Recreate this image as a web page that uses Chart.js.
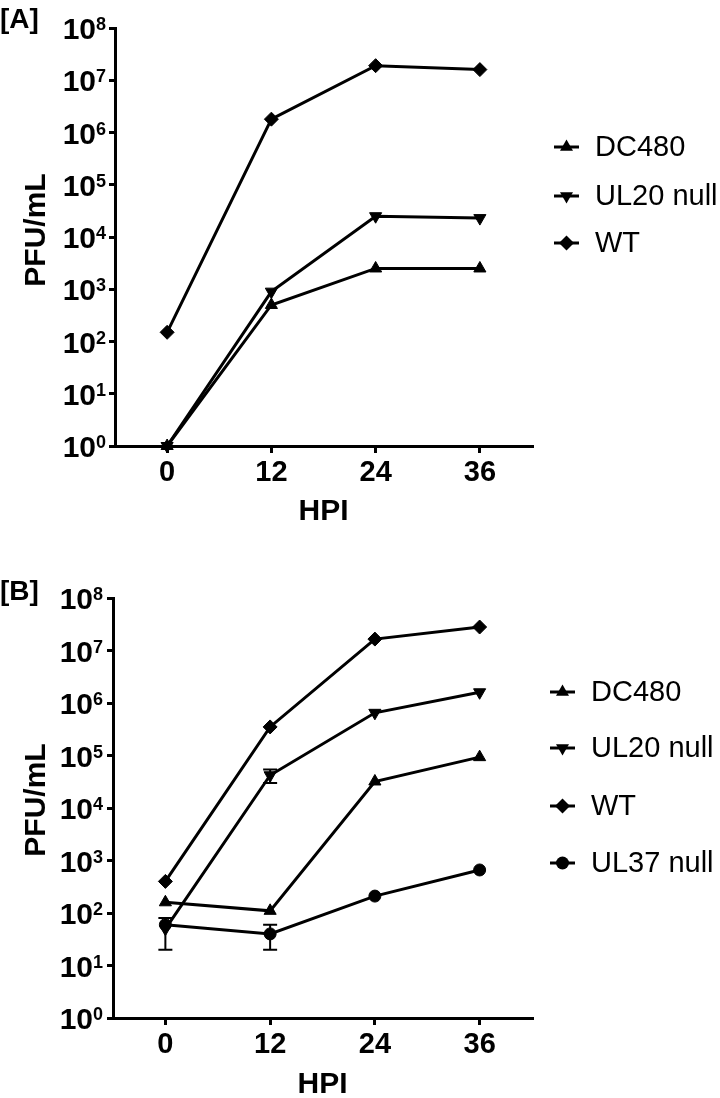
<!DOCTYPE html>
<html>
<head>
<meta charset="utf-8">
<script src="https://cdn.jsdelivr.net/npm/chart.js@4.4.0/dist/chart.umd.min.js"></script>
<style>
  body { margin: 0; background: #fff; width: 720px; height: 1098px; position: relative; overflow: hidden; }
  .panel { position: absolute; left: 0; width: 720px; height: 549px; }
</style>
</head>
<body>
<div class="panel" style="top:0"><canvas id="chartA" width="720" height="549"></canvas></div>
<div class="panel" style="top:549px"><canvas id="chartB" width="720" height="549"></canvas></div>
<script>
// ===== Data =====
const hours = [0, 12, 24, 36];
const hourTicks = [0, 12, 24, 36];
const powerTicks = [0, 1, 2, 3, 4, 5, 6, 7, 8];

// Panel A
const aDC480 = [1, 500, 2500, 2500];
const aUL20 = [1, 900, 25000, 23000];
const aWT = [150, 1.8e6, 1.9e7, 1.6e7];

// Panel B
const bDC480 = [160, 110, 32000, 93000];
const bUL20 = [50, 42000, 650000, 1.6e6];
const bWT = [400, 3.5e5, 1.65e7, 2.8e7];
const bUL37 = [60, 40, 210, 660];
const bUL20Err = [[20, 80], [30000, 54000], null, null];
const bUL37Err = [null, [20, 60], null, null];

const FONT = "'Liberation Sans', Arial, sans-serif";

const styles = {
  "DC480": { pointStyle: "triangle", rotation: 0, radius: 7 },
  "UL20 null": { pointStyle: "triangle", rotation: 180, radius: 7 },
  "WT": { pointStyle: "rectRot", rotation: 0, radius: 7 },
  "UL37 null": { pointStyle: "circle", rotation: 0, radius: 6 }
};

function series(label, values, errors) {
  const s = styles[label];
  return {
    label,
    data: hours.map((h, i) => ({ x: h, y: values[i] })),
    errors: errors || null,
    borderColor: "#000",
    backgroundColor: "#000",
    borderWidth: 3,
    pointStyle: s.pointStyle,
    rotation: s.rotation,
    pointRadius: s.radius,
    pointHoverRadius: s.radius,
    pointBorderWidth: 1,
    tension: 0,
    clip: false
  };
}

// small marker drawer for the legend
function marker(ctx, style, x, y) {
  const r = style.radius + 0.5;
  ctx.beginPath();
  if (style.pointStyle === "circle") {
    ctx.arc(x, y, r, 0, Math.PI * 2);
  } else if (style.pointStyle === "rectRot") {
    ctx.moveTo(x, y - r); ctx.lineTo(x + r, y); ctx.lineTo(x, y + r); ctx.lineTo(x - r, y);
  } else {
    const d = style.rotation ? -1 : 1;
    const h = r * 0.5;
    ctx.moveTo(x, y - d * r);
    ctx.lineTo(x + r * 0.866, y + d * h);
    ctx.lineTo(x - r * 0.866, y + d * h);
  }
  ctx.closePath();
  ctx.fill();
}

function makePanel(canvasId, tag, datasets, layout) {
  const extras = {
    id: "extras" + tag,
    beforeDatasetsDraw(chart) {
      const ctx = chart.ctx;
      const xs = chart.scales.x, ys = chart.scales.y;
      ctx.save();
      ctx.strokeStyle = "#000";
      ctx.lineWidth = 2;
      chart.data.datasets.forEach(ds => {
        if (!ds.errors) return;
        ds.errors.forEach((e, i) => {
          if (!e) return;
          const px = xs.getPixelForValue(hours[i]);
          const lo = ys.getPixelForValue(e[0]);
          const hi = ys.getPixelForValue(e[1]);
          ctx.beginPath();
          ctx.moveTo(px, lo); ctx.lineTo(px, hi);
          ctx.moveTo(px - 7, lo); ctx.lineTo(px + 7, lo);
          ctx.moveTo(px - 7, hi); ctx.lineTo(px + 7, hi);
          ctx.stroke();
        });
      });
      ctx.restore();
    },
    afterDraw(chart) {
      const ctx = chart.ctx;
      const ys = chart.scales.y;
      const area = chart.chartArea;
      ctx.save();
      ctx.fillStyle = "#000";

      // y tick labels as 10 with a superscript power
      powerTicks.forEach(p => {
        const py = ys.getPixelForValue(Math.pow(10, p));
        ctx.font = "bold 30px " + FONT;
        ctx.textAlign = "right";
        ctx.textBaseline = "alphabetic";
        ctx.fillText("10", layout.labelRight, py + 11);
        ctx.font = "bold 18px " + FONT;
        ctx.textAlign = "left";
        ctx.fillText(String(p), layout.labelRight, py + 2);
      });

      // axis titles
      ctx.font = "bold 30px " + FONT;
      ctx.textAlign = "center";
      ctx.textBaseline = "middle";
      ctx.fillText("HPI", (area.left + area.right) / 2, layout.xTitleY);
      ctx.save();
      ctx.translate(37, layout.yTitleY);
      ctx.rotate(-Math.PI / 2);
      ctx.fillText("PFU/mL", 0, 0);
      ctx.restore();

      // panel tag
      ctx.font = "bold 28px " + FONT;
      ctx.textAlign = "left";
      ctx.textBaseline = "alphabetic";
      ctx.fillText("[" + tag + "]", 0, layout.tagY);

      // legend
      ctx.strokeStyle = "#000";
      ctx.lineWidth = 3;
      chart.data.datasets.forEach((ds, i) => {
        const ly = layout.legendY[i];
        ctx.beginPath();
        ctx.moveTo(layout.legendX, ly);
        ctx.lineTo(layout.legendX + 25, ly);
        ctx.stroke();
        marker(ctx, styles[ds.label], layout.legendX + 12.5, ly);
        ctx.font = "29px " + FONT;
        ctx.textAlign = "left";
        ctx.textBaseline = "middle";
        ctx.fillText(ds.label, layout.legendX + 41, ly + 1);
      });
      ctx.restore();
    }
  };

  return new Chart(document.getElementById(canvasId), {
    type: "line",
    data: { datasets },
    options: {
      responsive: false,
      animation: false,
      events: [],
      layout: { padding: { top: layout.top, left: 0, right: 720 - layout.right, bottom: 0 } },
      plugins: { legend: { display: false }, tooltip: { enabled: false } },
      scales: {
        x: {
          type: "linear",
          min: -6,
          max: 42,
          afterBuildTicks: s => { s.ticks = hourTicks.map(v => ({ value: v })); },
          afterFit: s => { s.height = 549 - layout.bottom; },
          grid: { drawOnChartArea: false, drawTicks: true, tickLength: 7, color: "#000", lineWidth: 3 },
          border: { display: true, color: "#000", width: 3 },
          ticks: { color: "#000", padding: 3, font: { family: FONT, size: 29, weight: "bold" } }
        },
        y: {
          type: "logarithmic",
          min: 1,
          max: 1e8,
          afterBuildTicks: s => { s.ticks = powerTicks.map(p => ({ value: Math.pow(10, p) })); },
          afterFit: s => { s.width = layout.left; },
          grid: { drawOnChartArea: false, drawTicks: true, tickLength: 6, color: "#000", lineWidth: 3 },
          border: { display: true, color: "#000", width: 3 },
          ticks: { display: false }
        }
      }
    },
    plugins: [extras]
  });
}

document.addEventListener("DOMContentLoaded", () => {
  makePanel("chartA", "A", [
    series("DC480", aDC480),
    series("UL20 null", aUL20),
    series("WT", aWT)
  ], {
    top: 28, bottom: 446, left: 115, right: 532,
    labelRight: 96, xTitleY: 512, yTitleY: 230, tagY: 28,
    legendX: 554, legendY: [147, 196, 243]
  });

  makePanel("chartB", "B", [
    series("DC480", bDC480),
    series("UL20 null", bUL20, bUL20Err),
    series("WT", bWT),
    series("UL37 null", bUL37, bUL37Err)
  ], {
    top: 49, bottom: 469, left: 113, right: 532,
    labelRight: 93, xTitleY: 536, yTitleY: 251, tagY: 51,
    legendX: 550, legendY: [143, 199, 257, 314]
  });
});
</script>
</body>
</html>
